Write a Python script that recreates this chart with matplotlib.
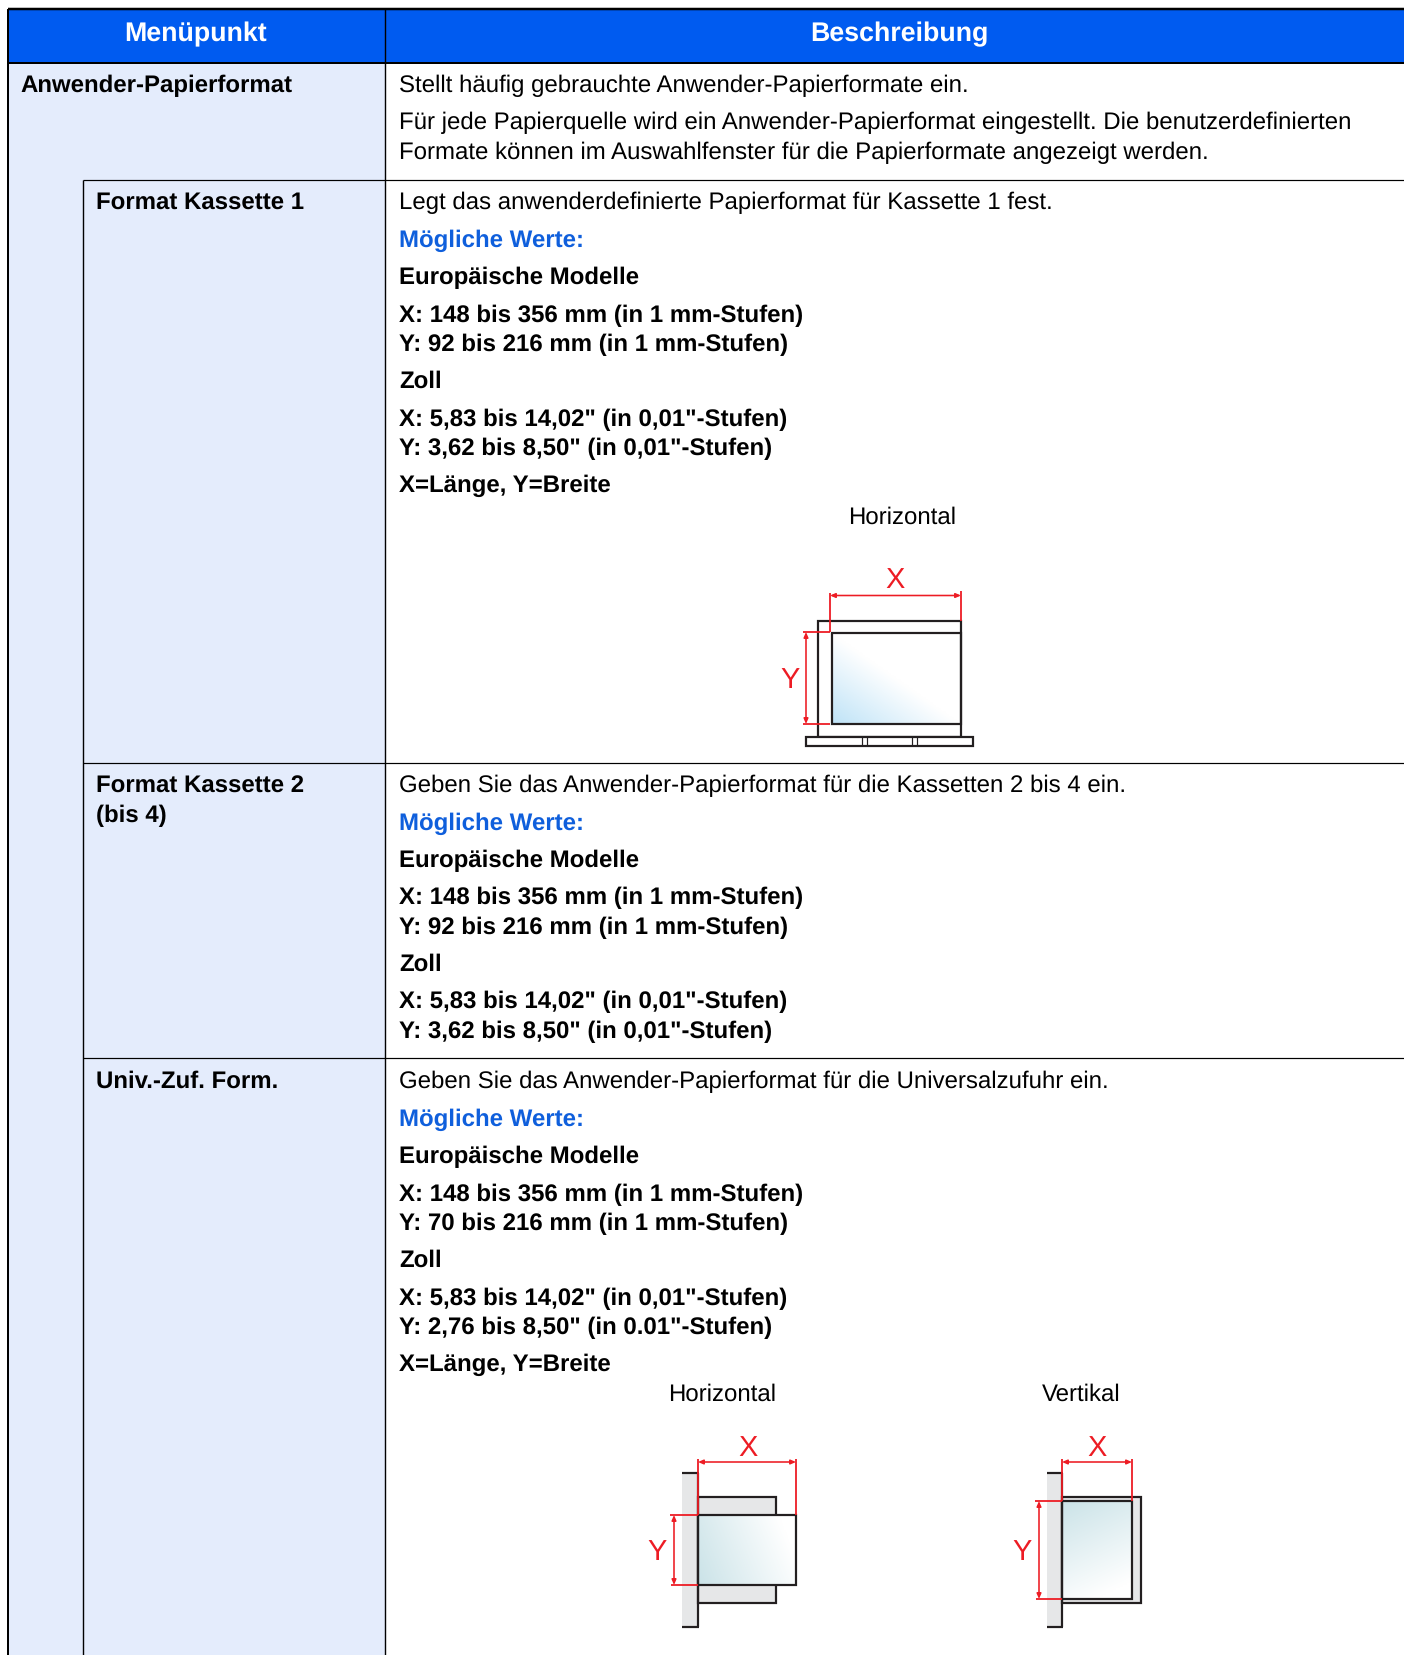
import matplotlib
matplotlib.use("Agg")
import matplotlib.pyplot as plt
from matplotlib.colors import LinearSegmentedColormap
from matplotlib.patches import Rectangle
import numpy as np

plt.rcParams['font.family'] = ['Liberation Sans', 'DejaVu Sans']
plt.rcParams['text.hinting'] = 'no_hinting'

W, H = 1404, 1655
PX = 72 / 100  # pixel height to points at dpi 100

BLUE = "#005bf0"
PALE = "#e4ecfc"
RED = "#ed1c24"
LINK = "#0f5fdc"

# Table text
header_labels = ["Menüpunkt", "Beschreibung"]
menu_items = ["Anwender-Papierformat", "Format Kassette 1", "Format Kassette 2", "(bis 4)", "Univ.-Zuf. Form."]
menu_x = [20.5, 96.5, 96.5, 96.5, 96.5]
menu_y = [92, 209, 793, 822, 1088]

# (text, style) per line, n = normal, b = bold, l = blue bold
desc_lines = [
    ("Stellt häufig gebrauchte Anwender-Papierformate ein.", "n"),
    ("Für jede Papierquelle wird ein Anwender-Papierformat eingestellt. Die benutzerdefinierten", "n"),
    ("Formate können im Auswahlfenster für die Papierformate angezeigt werden.", "n"),
    ("Legt das anwenderdefinierte Papierformat für Kassette 1 fest.", "n"),
    ("Mögliche Werte:", "l"),
    ("Europäische Modelle", "b"),
    ("X: 148 bis 356 mm (in 1 mm-Stufen)", "b"),
    ("Y: 92 bis 216 mm (in 1 mm-Stufen)", "b"),
    ("Zoll", "b"),
    ("X: 5,83 bis 14,02\" (in 0,01\"-Stufen)", "b"),
    ("Y: 3,62 bis 8,50\" (in 0,01\"-Stufen)", "b"),
    ("X=Länge, Y=Breite", "b"),
    ("Geben Sie das Anwender-Papierformat für die Kassetten 2 bis 4 ein.", "n"),
    ("Mögliche Werte:", "l"),
    ("Europäische Modelle", "b"),
    ("X: 148 bis 356 mm (in 1 mm-Stufen)", "b"),
    ("Y: 92 bis 216 mm (in 1 mm-Stufen)", "b"),
    ("Zoll", "b"),
    ("X: 5,83 bis 14,02\" (in 0,01\"-Stufen)", "b"),
    ("Y: 3,62 bis 8,50\" (in 0,01\"-Stufen)", "b"),
    ("Geben Sie das Anwender-Papierformat für die Universalzufuhr ein.", "n"),
    ("Mögliche Werte:", "l"),
    ("Europäische Modelle", "b"),
    ("X: 148 bis 356 mm (in 1 mm-Stufen)", "b"),
    ("Y: 70 bis 216 mm (in 1 mm-Stufen)", "b"),
    ("Zoll", "b"),
    ("X: 5,83 bis 14,02\" (in 0,01\"-Stufen)", "b"),
    ("Y: 2,76 bis 8,50\" (in 0.01\"-Stufen)", "b"),
    ("X=Länge, Y=Breite", "b"),
]
desc_y = [92, 129, 159, 209, 247, 284, 322, 351, 388, 426, 455, 492,
          792, 830, 867, 904, 934, 971, 1008, 1038,
          1088, 1126, 1163, 1201, 1230, 1267, 1305, 1334, 1371]

fig = plt.figure(figsize=(W / 100, H / 100), dpi=100)
ax = fig.add_axes([0, 0, 1, 1])
ax.set_xlim(0, W)
ax.set_ylim(H, 0)
ax.axis("off")


def line(xs, ys, color="black", lw=1.0, z=3):
    ax.plot(xs, ys, color=color, lw=lw * PX, solid_capstyle="butt", zorder=z)


def box(x0, y0, x1, y1, face="none", edge="#231f20", lw=2.2, z=3):
    ax.add_patch(Rectangle((x0 - 0.5, y0 - 0.5), x1 - x0, y1 - y0, facecolor=face, edgecolor=edge,
                           lw=lw * PX, zorder=z))


def gradient(x0, y0, x1, y1, img, color):
    cmap = LinearSegmentedColormap.from_list("g", ["white", color])
    ax.imshow(img, extent=(x0, x1, y1, y0), cmap=cmap, vmin=0, vmax=1, aspect="auto",
              interpolation="bilinear", zorder=2)
    ax.set_xlim(0, W)
    ax.set_ylim(H, 0)


def red_arrow(x0, y0, x1, y1):
    ax.annotate("", xy=(x1, y1), xytext=(x0, y0), zorder=5,
                arrowprops=dict(arrowstyle="<|-|>,head_length=0.3,head_width=0.13", color=RED,
                                lw=1.6 * PX, shrinkA=0, shrinkB=0))


def plain(x, y, s, size=24.0, color="black", weight="normal", ha="left", va="baseline"):
    ax.text(x, y, s, fontsize=size * PX, color=color, fontweight=weight, ha=ha, va=va, zorder=6)


# Table background and rules
ax.add_patch(Rectangle((8, 62), 377, H - 62, facecolor=PALE, edgecolor="none", zorder=1))
ax.add_patch(Rectangle((8, 9), W - 8, 53, facecolor=BLUE, edgecolor="none", zorder=1))
line([8, W], [9, 9], lw=2.5)
line([8, W], [62.5, 62.5], lw=2)
line([8, 8], [9, H], lw=2)
line([385, 385], [9, H], lw=1.4)
line([83, W], [180, 180], lw=1.2)
line([83, 83], [180, H], lw=1.4)
line([83, W], [763, 763], lw=1.2)
line([83, W], [1058, 1058], lw=1.2)

plain(196, 34, header_labels[0], size=26.8, color="white", weight="bold", ha="center", va="center")
plain(899.5, 34, header_labels[1], size=26.8, color="white", weight="bold", ha="center", va="center")

for s, x, y in zip(menu_items, menu_x, menu_y):
    plain(x, y, s, weight="bold")

for (s, style), y in zip(desc_lines, desc_y):
    if style == "n":
        plain(399, y, s)
    elif style == "b":
        plain(399, y, s, weight="bold")
    else:
        plain(399, y, s, color=LINK, weight="bold")

# Diagram: cassette, horizontal
plain(902.5, 517.5, "Horizontal", ha="center", va="center")
yy, xx = np.mgrid[0:1:60j, 0:1:80j]
box(818, 621, 961, 737)
gradient(832, 633, 961, 724, np.clip(1 - xx - (1 - yy), 0, 1), "#bfe3f7")
box(832, 633, 961, 724)
box(806, 737, 973, 746, face="white")
for nx in [862, 867, 912, 917]:
    line([nx, nx], [737, 746], color="#231f20", lw=1.2, z=4)
line([830, 830], [593, 632], color=RED, lw=1.8, z=5)
line([961, 961], [591, 621], color=RED, lw=1.8, z=5)
line([803, 830], [632, 632], color=RED, lw=1.8, z=5)
line([803, 830], [724, 724], color=RED, lw=1.8, z=5)
red_arrow(830, 595.5, 961, 595.5)
red_arrow(806, 632, 806, 724)
plain(895, 581, "X", size=29, color=RED, ha="center", va="center")
plain(790, 680, "Y", size=29, color=RED, ha="center", va="center")

# Diagram: bypass, horizontal
plain(722.5, 1395, "Horizontal", ha="center", va="center")
ax.add_patch(Rectangle((682, 1473), 16, 154, facecolor="#e6e7e8", edgecolor="none", zorder=2))
line([682, 699], [1473, 1473], color="#231f20", lw=2.2)
line([682, 699], [1627, 1627], color="#231f20", lw=2.2)
line([698, 698], [1473, 1627], color="#231f20", lw=2.2, z=4)
box(698, 1497, 776, 1603, face="#e6e7e8", z=2)
yy, xx = np.mgrid[0:1:40j, 0:1:80j]
gradient(698, 1515, 796, 1585, np.clip(1 - xx * 0.9 - (1 - yy) * 0.25, 0, 1), "#cbe3e8")
box(698, 1515, 796, 1585)
line([698, 698], [1459, 1515], color=RED, lw=1.8, z=5)
line([796, 796], [1459, 1515], color=RED, lw=1.8, z=5)
line([670, 698], [1515, 1515], color=RED, lw=1.8, z=5)
line([671, 698], [1585, 1585], color=RED, lw=1.8, z=5)
red_arrow(698, 1462, 796, 1462)
red_arrow(674, 1515, 674, 1585)
plain(748, 1449, "X", size=29, color=RED, ha="center", va="center")
plain(657, 1552, "Y", size=29, color=RED, ha="center", va="center")

# Diagram: bypass, vertical
plain(1081, 1395, "Vertikal", ha="center", va="center")
ax.add_patch(Rectangle((1047, 1473), 15, 154, facecolor="#e6e7e8", edgecolor="none", zorder=2))
line([1047, 1063], [1473, 1473], color="#231f20", lw=2.2)
line([1047, 1063], [1627, 1627], color="#231f20", lw=2.2)
line([1062, 1062], [1473, 1627], color="#231f20", lw=2.2, z=4)
box(1062, 1497, 1141, 1603, face="#e6e7e8", z=2)
yy, xx = np.mgrid[0:1:60j, 0:1:50j]
gradient(1062, 1501, 1132, 1599, np.clip(1 - yy * 0.85 - xx * 0.3, 0, 1), "#cbe3e8")
box(1062, 1501, 1132, 1599)
line([1062, 1062], [1459, 1501], color=RED, lw=1.8, z=5)
line([1132, 1132], [1459, 1501], color=RED, lw=1.8, z=5)
line([1035, 1062], [1501, 1501], color=RED, lw=1.8, z=5)
line([1036, 1062], [1599, 1599], color=RED, lw=1.8, z=5)
red_arrow(1062, 1462, 1132, 1462)
red_arrow(1039, 1501, 1039, 1599)
plain(1097, 1449, "X", size=29, color=RED, ha="center", va="center")
plain(1022, 1552, "Y", size=29, color=RED, ha="center", va="center")

fig.savefig("out.png", dpi=100, facecolor="white")
